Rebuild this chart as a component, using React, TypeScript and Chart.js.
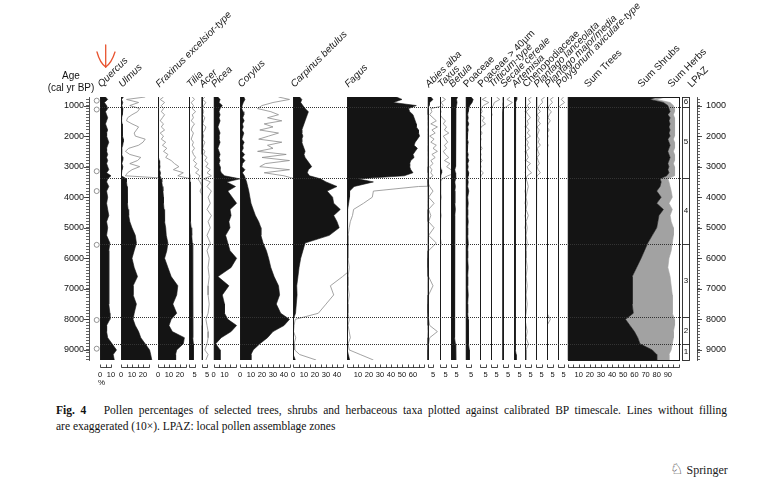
import React, { useEffect, useRef } from "react";
import { Chart, registerables } from "chart.js";

Chart.register(...registerables);

// ---------------- data ----------------
const AGES = [720, 800, 900, 1000, 1100, 1200, 1300, 1400, 1500, 1600,
  1700, 1800, 1900, 2000, 2100, 2200, 2300, 2400, 2500, 2600,
  2700, 2800, 2900, 3000, 3100, 3200, 3300, 3400, 3500, 3650,
  3800, 4000, 4200, 4400, 4600, 4800, 5000, 5250, 5500, 5750,
  6000, 6300, 6600, 6900, 7200, 7500, 7800, 8000, 8200, 8400,
  8600, 8800, 9000, 9150, 9330];

const QUERCUS = [5, 7, 4, 6, 7, 5, 6, 7, 6, 5,
  6, 7, 6, 6, 7, 8, 7, 6, 6, 7,
  6, 7, 6, 7, 8, 6, 10, 7, 6, 8,
  6, 7, 6, 7, 8, 6, 7, 6, 9, 8,
  8, 8, 8, 8, 8, 8, 9, 9, 6, 6,
  7, 11, 15, 12, 13];
const ULMUS = [2.2, 0.5, 1.6, 0.8, 1.7, 1.5, 1.0, 0.6, 0.5, 1.0,
  1.6, 1.4, 1.2, 1.3, 2.2, 2.0, 1.6, 0.7, 0.4, 0.8,
  1.8, 1.5, 0.8, 1.7, 1.0, 0.6, 0.4, 5, 5, 5.5,
  5.5, 6, 6, 6.5, 7, 8, 10, 13, 14, 12,
  10, 12, 15, 11, 11, 14, 12, 11, 13, 16,
  18, 22, 26, 27, 28];
const FRAXINUS = [0.5, 0.2, 0.6, 0.3, 0.5, 0.3, 0.6, 0.4, 0.2, 0.5,
  0.3, 0.6, 0.2, 0.5, 0.3, 0.7, 0.4, 0.8, 0.5, 0.9,
  0.7, 1.2, 1.5, 1.9, 1.4, 2.3, 1.8, 3, 3.5, 4,
  4.5, 5, 5, 5.5, 6, 6, 7, 7.5, 9, 8,
  6, 9, 12, 18, 17, 13.5, 17, 12, 10, 13,
  24, 23, 17, 16, 16];
const TILIA = [0.3, 0.5, 0.2, 0.4, 0.3, 0.6, 0.3, 0.4, 0.2, 0.5,
  0.3, 0.2, 0.4, 0.3, 0.2, 0.4, 0.3, 0.5, 0.3, 0.4,
  0.6, 0.4, 0.7, 0.5, 0.9, 0.6, 1.0, 0.8, 1.0, 1.2,
  1.0, 1.3, 1.5, 1.3, 1.6, 1.8, 2.0, 2.5, 3.0, 3.5,
  3.5, 3.2, 3.5, 3.5, 3.5, 3.2, 3.5, 3.5, 3.5, 3.3,
  3.5, 4, 4, 4, 4];
const ACER = [0.3, 0.1, 0.4, 0.2, 0.1, 0.2, 0.1, 0.3, 0.2, 0.1,
  0.4, 0.3, 0.1, 0.2, 0.1, 0.3, 0.2, 0.1, 0.3, 0.2,
  0.5, 0.3, 0.6, 0.4, 0.8, 0.5, 0.9, 0.2, 0.8, 0.5,
  0.9, 0.6, 0.8, 0.5, 0.9, 0.6, 0.8, 0.5, 0.8, 0.5,
  0.7, 0.6, 0.7, 0.6, 0.6, 0.7, 0.6, 0.4, 0.5, 0.6,
  0.6, 0.5, 0.3, 0.6, 0.4];
const PICEA = [4, 6, 5, 8, 6, 5, 6, 5, 6, 5,
  4, 5, 6, 5, 5, 6, 5, 4, 5, 6,
  5, 6, 5, 6, 6, 7, 10, 24, 12, 20,
  13, 17, 21, 15, 16, 14, 15, 11, 13, 15,
  21, 16, 4, 14, 8, 10, 10, 13, 21, 16,
  7, 2, 6, 6, 6];
const CORYLUS = [3.5, 4.5, 3.0, 2.0, 1.6, 2.8, 3.5, 2.5, 3.8, 2.2,
  3.0, 1.8, 3.5, 2.6, 1.7, 3.8, 2.5, 3.0, 1.6, 4.2,
  2.0, 4.5, 2.3, 1.8, 4.5, 2.2, 4.0, 5, 6, 7,
  8, 9, 10, 12, 14, 17, 19, 19, 21, 24,
  26, 28, 31, 35, 36, 33, 37, 45, 40, 30,
  25, 18, 12, 10, 10];
const CARPINUS = [6, 8, 7, 9, 11, 14, 13, 12, 11, 10,
  9, 8, 8, 9, 8, 8, 9, 10, 11, 10,
  11, 13, 15, 17, 14, 13, 15, 25, 30, 40,
  31, 36, 37, 43, 37, 40, 42, 33, 11, 9,
  7, 5.5, 4.5, 3.4, 3.7, 3.0, 2.3, 0.2, 0.1, 0.05,
  0.25, 0.1, 0.15, 0.6, 2.1];
const FAGUS = [45, 50, 42, 63, 56, 57, 60, 61, 62, 63,
  63, 65, 65, 66, 64, 62, 61, 64, 62, 60,
  61, 58, 57, 57, 58, 60, 52, 10, 24, 6.5,
  2.4, 2.3, 1.5, 0.6, 0.5, 0.3, 0.2, 0.1, 0.1, 0.1,
  0.1, 0.2, 0.1, 0.1, 0.2, 0.1, 0.1, 0.2, 0.1, 0.2,
  0.3, 0.1, 0.2, 1.2, 2.4];
const ABIES = [3, 5, 2, 1.5, 0.3, 0.4, 0.2, 0.5, 0.8, 0.3,
  0.9, 0.4, 0.7, 0.2, 0.6, 0.3, 0.8, 0.5, 0.9, 0.4,
  0.7, 0.3, 0.5, 0.2, 0.4, 0.3, 0.5, 0.1, 0, 0.2,
  0.5, 0.1, 0.6, 0.1, 0.3, 0.1, 0.6, 0.1, 0.8, 0.1,
  0, 0, 0.1, 0.5, 0.1, 0, 0, 0.1, 0.2, 0.9,
  0.2, 0.1, 0, 0, 0];
const TAXUS = [0.2, 0.5, 0.1, 0.3, 0, 0.1, 0, 0.2, 0.5, 0.3,
  0.6, 0.4, 0.8, 0.3, 0.5, 0.7, 0.4, 0.6, 0.3, 0.5,
  0.8, 0.4, 0.9, 0.6, 1.0, 1.5, 0.7, 0.2, 0, 0,
  0, 0.1, 0, 0, 0.1, 0, 0, 0, 0.1, 0,
  0, 0, 0, 0, 0, 0, 0, 0, 0, 0,
  0, 0, 0, 0, 0];
const BETULA = [6, 5, 5.5, 5, 4.5, 4, 4.5, 4, 4, 4.5,
  4, 4, 4.5, 4, 4, 4.5, 4, 4, 4.5, 4,
  4, 4.5, 4, 4, 3.5, 4, 4.5, 4, 3.5, 4,
  3.5, 3.5, 3.5, 4, 3.5, 3.5, 3.5, 3.5, 3.5, 3,
  3, 3.5, 3, 3, 3, 3, 3, 3, 3.5, 3.5,
  3.5, 4, 4, 4.5, 4.5];
const POACEAE = [5, 7, 6, 4, 3, 2.5, 2, 2.5, 2, 3,
  2, 2.5, 2, 1.5, 2, 2.5, 2, 1.5, 2, 2.5,
  2, 3, 2, 2.5, 2, 3, 2.5, 2, 2.5, 2,
  3, 2, 2.5, 2, 2, 2.5, 2, 2, 2.5, 2,
  2, 2.5, 2, 2, 2.5, 2, 2, 2.5, 2.5, 3,
  2.5, 3, 3.5, 3.5, 3.5];
const POACEAE_40 = [0.6, 0.2, 0.8, 0.3, 0.1, 0.2, 0, 0.4, 0.2, 0.5,
  0.1, 0, 0.2, 0, 0.1, 0, 0, 0.2, 0, 0.1,
  0, 0.2, 0, 0.1, 0, 0.3, 0.1, 0, 0, 0,
  0, 0, 0, 0, 0, 0, 0, 0, 0, 0,
  0, 0, 0, 0, 0, 0, 0, 0, 0, 0,
  0, 0, 0, 0, 0];
const TRITICUM = [0.5, 0.8, 0.3, 0.2, 0, 0, 0.1, 0, 0, 0,
  0, 0, 0, 0, 0, 0, 0, 0, 0, 0,
  0, 0, 0, 0, 0, 0, 0, 0, 0, 0,
  0, 0, 0, 0, 0, 0, 0, 0, 0, 0,
  0, 0, 0, 0, 0, 0, 0, 0, 0, 0,
  0, 0, 0, 0, 0];
const SECALE = [0.7, 0.4, 0.9, 0.5, 0.1, 0, 0, 0, 0, 0,
  0, 0, 0, 0, 0, 0, 0, 0, 0, 0,
  0, 0, 0, 0, 0, 0, 0, 0, 0, 0,
  0, 0, 0, 0, 0, 0, 0, 0, 0, 0,
  0, 0, 0, 0, 0, 0, 0, 0, 0, 0,
  0, 0, 0, 0, 0];
const ARTEMISIA = [2, 2.5, 1.5, 1.5, 1.2, 1.0, 1.2, 1.0, 1.3, 1.1,
  1.0, 1.2, 1.4, 1.0, 1.1, 1.3, 1.0, 1.2, 1.0, 1.1,
  1.3, 1.0, 1.2, 1.4, 1.1, 1.0, 1.3, 1.0, 1.2, 1.1,
  1.0, 1.1, 1.0, 1.2, 1.0, 1.1, 1.0, 1.2, 1.3, 1.1,
  1.2, 1.3, 1.4, 1.2, 1.3, 1.2, 1.4, 1.3, 1.5, 1.4,
  1.3, 1.5, 1.8, 2.0, 2.0];
const CHENOPODIACEAE = [0.6, 0.3, 0.5, 0.2, 0.4, 0.1, 0.3, 0.5, 0.2, 0.3,
  0.1, 0.4, 0.2, 0.5, 0.1, 0.3, 0.2, 0.4, 0.1, 0.2,
  0.3, 0.1, 0.5, 0.2, 0.3, 0.6, 0.2, 0.1, 0.2, 0.3,
  0.2, 0.1, 0.2, 0.1, 0.3, 0.1, 0.2, 0.1, 0.2, 0.1,
  0.1, 0.2, 0.1, 0.2, 0.1, 0.2, 0.1, 0, 0.1, 0.2,
  0.1, 0.3, 0.1, 0.1, 0.1];
const PLANTAGO_LANC = [0.8, 0.5, 0.6, 0.3, 0.2, 0.4, 0.1, 0.3, 0.2, 0.4,
  0.1, 0.3, 0.2, 0.1, 0.3, 0.2, 0.4, 0.1, 0.2, 0.3,
  0.1, 0.2, 0.3, 0.1, 0.2, 0.4, 0.1, 0, 0, 0,
  0, 0, 0, 0, 0, 0, 0, 0, 0, 0,
  0, 0, 0, 0, 0, 0, 0, 0, 0, 0,
  0, 0, 0, 0, 0];
const PLANTAGO_MAJ = [0.6, 0.3, 0.5, 0.2, 0.1, 0.4, 0.2, 0.1, 0.3, 0.1,
  0, 0.2, 0, 0.1, 0, 0, 0.1, 0, 0, 0,
  0, 0, 0, 0, 0, 0, 0, 0, 0, 0,
  0, 0, 0, 0, 0, 0, 0, 0, 0, 0,
  0, 0, 0, 0, 0, 0, 0, 0.3, 0, 0,
  0, 0, 0, 0, 0];
const POLYGONUM = [0.5, 0.3, 0.6, 0.2, 0, 0, 0, 0, 0, 0,
  0, 0, 0, 0, 0, 0, 0, 0, 0, 0,
  0, 0, 0, 0, 0, 0, 0, 0, 0, 0,
  0, 0, 0, 0, 0, 0, 0, 0, 0, 0,
  0, 0, 0, 0, 0, 0, 0, 0, 0, 0,
  0, 0, 0, 0, 0];
const SUM_TREES = [80, 74, 86, 90, 91, 92, 90, 92, 91, 92,
  91, 92, 91, 92, 90, 91, 92, 91, 90, 91,
  92, 91, 90, 91, 90, 91, 89, 83, 84, 83,
  80, 84, 80, 86, 82, 81, 80, 76, 72, 69,
  66, 62, 58, 58, 58, 58, 59, 52, 56, 60,
  63, 65, 76, 80, 80];
const SUM_SHRUBS = [8, 6, 6, 5, 5, 4, 5, 4, 5, 4,
  5, 4, 5, 4, 5, 5, 4, 5, 5, 5,
  4, 5, 5, 5, 6, 5, 7, 7, 7, 9,
  13, 10, 11, 8, 10, 12, 15, 19, 22, 24,
  25, 28, 34, 35, 36, 36, 35, 44, 40, 35,
  32, 29, 17, 11, 11];

const DATED_AGES = [840, 1130, 3150, 3800, 5560, 8020, 8960];
const ZONE_BOUNDS = [1040, 3360, 5530, 7930, 8815];
const ZONE_NAMES = ["6", "5", "4", "3", "2", "1"];
const AGE_MIN = 720;
const AGE_MAX = 9330;
const AGE_TICK_FIRST = 800;
const AGE_TICK_LAST = 9300;
const AGE_TICK_STEP = 100;
const AGE_LABEL_STEP = 1000;

// ---------------- layout (not data) ----------------
const PX_PER_PCT = 1.1;
const TOP_H = 97;
const BOTTOM_H = 30;
const AXIS_STEP = 5;
const LPAZ_BOX = [0.14, 0.53];
const FONT = '"Liberation Sans", Arial, sans-serif';

type Panel = {
  id: string;
  name?: string;
  values?: number[];
  width: number;
  ppp?: number;
  min?: number;
  max?: number;
  italic?: boolean;
  exag?: boolean;
  axisTo?: number;
  labels?: number[];
  topTicks?: number[];
  topLabels?: string[];
};

const PANELS: Panel[] = [
  { id: "dates", width: 11, min: 0, max: 1 },
  { id: "quercus", name: "Quercus", values: QUERCUS, width: 21, italic: true, axisTo: 10, labels: [0, 10] },
  { id: "ulmus", name: "Ulmus", values: ULMUS, width: 37, italic: true, exag: true, axisTo: 25, labels: [0, 10, 20] },
  { id: "fraxinus", name: "Fraxinus excelsior-type", values: FRAXINUS, width: 31, italic: true, exag: true, axisTo: 25, labels: [0, 10, 20] },
  { id: "tilia", name: "Tilia", values: TILIA, width: 12.5, italic: true, exag: true, axisTo: 5, labels: [5] },
  { id: "acer", name: "Acer", values: ACER, width: 12, italic: true, exag: true, axisTo: 5, labels: [5] },
  { id: "picea", name: "Picea", values: PICEA, width: 26.5, italic: true, axisTo: 20, labels: [0, 10] },
  { id: "corylus", name: "Corylus", values: CORYLUS, width: 53, italic: true, exag: true, axisTo: 45, labels: [0, 10, 20, 30, 40] },
  { id: "carpinus", name: "Carpinus betulus", values: CARPINUS, width: 54, italic: true, exag: true, axisTo: 45, labels: [0, 10, 20, 30, 40] },
  { id: "fagus", name: "Fagus", values: FAGUS, width: 80.5, italic: true, exag: true, axisTo: 70, labels: [10, 20, 30, 40, 50, 60] },
  { id: "abies", name: "Abies alba", values: ABIES, width: 12.5, italic: true, exag: true, axisTo: 5, labels: [5] },
  { id: "taxus", name: "Taxus", values: TAXUS, width: 11, italic: true, exag: true, axisTo: 5, labels: [5] },
  { id: "betula", name: "Betula", values: BETULA, width: 14.5, italic: true, axisTo: 5, labels: [5] },
  { id: "poaceae", name: "Poaceae", values: POACEAE, width: 14.5, axisTo: 5, labels: [5] },
  { id: "poa40", name: "Poaceae > 40µm", values: POACEAE_40, width: 11, exag: true, axisTo: 5, labels: [5] },
  { id: "triticum", name: "Triticum-type", values: TRITICUM, width: 11.5, italic: true, exag: true, axisTo: 5, labels: [5] },
  { id: "secale", name: "Secale cereale", values: SECALE, width: 11.5, italic: true, exag: true, axisTo: 5, labels: [5] },
  { id: "artemisia", name: "Artemisia", values: ARTEMISIA, width: 11, italic: true, exag: true, axisTo: 5, labels: [5] },
  { id: "cheno", name: "Chenopodiaceae", values: CHENOPODIACEAE, width: 11, exag: true, axisTo: 5, labels: [5] },
  { id: "pllanc", name: "Plantago lanceolata", values: PLANTAGO_LANC, width: 11, italic: true, exag: true, axisTo: 5, labels: [5] },
  { id: "plmaj", name: "Plantago major/media", values: PLANTAGO_MAJ, width: 11, italic: true, exag: true, axisTo: 5, labels: [5] },
  { id: "polyg", name: "Polygonum aviculare-type", values: POLYGONUM, width: 9.5, italic: true, exag: true, axisTo: 5, labels: [5] },
  { id: "sum", width: 112.5, ppp: 1.115, axisTo: 100, labels: [10, 20, 30, 40, 50, 60, 70, 80, 90],
    topTicks: [17, 65, 92], topLabels: ["Sum Trees", "Sum Shrubs", "Sum Herbs"] },
  { id: "lpaz", width: 17, min: 0, max: 1, topTicks: [0.59], topLabels: ["LPAZ"] },
];

function scaleMax(p: Panel) {
  if (p.max !== undefined) return p.max;
  return p.width / (p.ppp || PX_PER_PCT);
}

function ageTicks() {
  const t: { value: number }[] = [];
  for (let v = AGE_TICK_FIRST; v <= AGE_TICK_LAST; v += AGE_TICK_STEP) t.push({ value: v });
  return t;
}

function buildScales() {
  const scales: any = {};
  const yBase = (position: string, padding: number) => ({
    type: "linear",
    axis: "y",
    position,
    min: AGE_MIN,
    max: AGE_MAX,
    reverse: true,
    afterBuildTicks: (s: any) => { s.ticks = ageTicks(); },
    afterFit: (s: any) => { s.width = 40; },
    grid: { display: true, drawOnChartArea: false, drawTicks: true, tickLength: 3, color: "#222", lineWidth: 0.7 },
    border: { display: true, color: "#222", width: 0.8 },
    ticks: {
      autoSkip: false,
      padding,
      color: "#111",
      font: { family: FONT, size: 9 },
      callback: (v: number) => (v % AGE_LABEL_STEP === 0 ? String(v) : ""),
    },
  });
  scales.y = yBase("left", 2);
  scales.yR = yBase("right", 6);

  PANELS.forEach((p) => {
    scales["b_" + p.id] = {
      type: "linear",
      axis: "x",
      position: "bottom",
      stack: "bottom",
      stackWeight: p.width,
      stacked: p.id === "sum",
      min: p.min !== undefined ? p.min : 0,
      max: scaleMax(p),
      grid: { display: false, drawTicks: true, tickLength: 9 },
      border: { display: false },
      ticks: {
        display: !!p.labels,
        autoSkip: false,
        minRotation: 0,
        maxRotation: 0,
        padding: 1,
        color: "#111",
        font: { family: FONT, size: 7.5 },
        callback: (v: number) => String(v),
      },
      afterBuildTicks: (s: any) => { s.ticks = (p.labels || []).map((v) => ({ value: v })); },
      afterFit: (s: any) => { s.height = BOTTOM_H; s.paddingLeft = 0; s.paddingRight = 0; },
    };
  });

  [...PANELS].reverse().forEach((p) => {
    const tTicks = p.topTicks || (p.name ? [0] : []);
    const tLabels = p.topLabels || (p.name ? [p.name] : []);
    scales["t_" + p.id] = {
      type: "linear",
      axis: "x",
      position: "top",
      stack: "top",
      stackWeight: p.width,
      min: p.min !== undefined ? p.min : 0,
      max: scaleMax(p),
      grid: { display: false, drawTicks: false },
      border: { display: false },
      ticks: {
        display: tTicks.length > 0,
        autoSkip: false,
        minRotation: 45,
        maxRotation: 45,
        padding: 7,
        labelOffset: 8,
        color: "#1a1a1a",
        font: { family: FONT, size: 10, style: p.italic ? "italic" : "normal" },
        callback: (_v: number, i: number) => tLabels[i] || "",
      },
      afterBuildTicks: (s: any) => { s.ticks = tTicks.map((v) => ({ value: v })); },
      afterFit: (s: any) => { s.height = TOP_H; s.paddingLeft = 0; s.paddingRight = 0; },
    };
  });
  return scales;
}

function buildDatasets() {
  const fills: any[] = [];
  const lines: any[] = [];
  PANELS.forEach((p) => {
    if (!p.values) return;
    const vals = p.values;
    fills.push({
      label: p.name,
      data: AGES.map((a, i) => ({ x: vals[i], y: a })),
      xAxisID: "b_" + p.id,
      yAxisID: "y",
      fill: "origin",
      backgroundColor: "#141414",
      borderColor: "#141414",
      borderWidth: 0.6,
      pointRadius: 0,
      tension: 0,
    });
    if (p.exag) {
      lines.push({
        label: p.name + " ×10",
        data: AGES.map((a, i) => ({ x: vals[i] * 10, y: a })),
        xAxisID: "b_" + p.id,
        yAxisID: "y",
        fill: false,
        borderColor: "#8c8c8c",
        borderWidth: 0.8,
        pointRadius: 0,
        tension: 0,
      });
    }
  });
  const sums = [
    {
      label: "Sum Trees",
      data: AGES.map((a, i) => ({ x: SUM_TREES[i], y: a })),
      xAxisID: "b_sum", yAxisID: "y",
      fill: "origin", backgroundColor: "#141414", borderColor: "#141414",
      borderWidth: 0.6, pointRadius: 0, tension: 0,
    },
    {
      label: "Sum Shrubs",
      data: AGES.map((a, i) => ({ x: SUM_SHRUBS[i], y: a })),
      xAxisID: "b_sum", yAxisID: "y",
      fill: "-1", backgroundColor: "#a2a2a2", borderColor: "#a2a2a2",
      borderWidth: 0.6, pointRadius: 0, tension: 0,
    },
  ];
  const dates = [
    {
      label: "dates-circle",
      data: DATED_AGES.map((a) => ({ x: 0.7, y: a })),
      xAxisID: "b_dates", yAxisID: "y",
      showLine: false, pointStyle: "circle", pointRadius: 2.5,
      pointBorderColor: "#7a7a7a", pointBackgroundColor: "#fff", pointBorderWidth: 0.8,
    },
    {
      label: "dates-cross",
      data: DATED_AGES.map((a) => ({ x: 0.7, y: a })),
      xAxisID: "b_dates", yAxisID: "y",
      showLine: false, pointStyle: "crossRot", pointRadius: 2.1,
      pointBorderColor: "#7a7a7a", pointBorderWidth: 0.8,
    },
  ];
  return [...dates, ...fills, ...sums, ...lines];
}

const decorPlugin = {
  id: "pollenDecor",
  afterDatasetsDraw(chart: any) {
    const { ctx, chartArea, scales } = chart;
    const top = chartArea.top;
    const bottom = chartArea.bottom;
    ctx.save();
    ctx.strokeStyle = "#1a1a1a";
    ctx.lineWidth = 1;
    // panel baselines
    PANELS.forEach((p) => {
      if (!p.values) return;
      const x = Math.round(scales["b_" + p.id].getPixelForValue(0)) + 0.5;
      ctx.beginPath();
      ctx.moveTo(x, top);
      ctx.lineTo(x, bottom);
      ctx.stroke();
    });
    // sum box
    const sS = scales.b_sum;
    const sx0 = Math.round(sS.getPixelForValue(0)) + 0.5;
    const sx1 = Math.round(sS.getPixelForValue(100)) + 0.5;
    ctx.strokeRect(sx0, Math.round(top) + 0.5, sx1 - sx0, Math.round(bottom - top));
    // bottom axes with upward ticks
    ctx.lineWidth = 0.8;
    PANELS.forEach((p) => {
      if (p.axisTo === undefined) return;
      const s = scales["b_" + p.id];
      const y = Math.round(bottom) + 7.5;
      ctx.beginPath();
      ctx.moveTo(Math.round(s.getPixelForValue(0)) + 0.5, y);
      ctx.lineTo(Math.round(s.getPixelForValue(p.axisTo)) + 0.5, y);
      for (let v = 0; v <= p.axisTo; v += AXIS_STEP) {
        const x = Math.round(s.getPixelForValue(v)) + 0.5;
        ctx.moveTo(x, y);
        ctx.lineTo(x, y - 3);
      }
      ctx.stroke();
    });
    // longer major ticks on the age axes
    ctx.lineWidth = 0.8;
    ctx.strokeStyle = "#222";
    for (let a = AGE_LABEL_STEP; a <= AGE_TICK_LAST; a += AGE_LABEL_STEP) {
      const y = Math.round(scales.y.getPixelForValue(a)) + 0.5;
      ctx.beginPath();
      ctx.moveTo(scales.y.right - 5, y);
      ctx.lineTo(scales.y.right, y);
      ctx.moveTo(scales.yR.left, y);
      ctx.lineTo(scales.yR.left + 5, y);
      ctx.stroke();
    }
    // zone lines
    const xL = scales.b_quercus.getPixelForValue(0);
    const lp = scales.b_lpaz;
    const bx0 = Math.round(lp.getPixelForValue(LPAZ_BOX[0])) + 0.5;
    const bx1 = Math.round(lp.getPixelForValue(LPAZ_BOX[1])) + 0.5;
    ctx.strokeStyle = "#333";
    ctx.lineWidth = 1;
    ctx.setLineDash([1, 1]);
    ZONE_BOUNDS.forEach((a) => {
      const y = Math.round(scales.y.getPixelForValue(a)) + 0.5;
      ctx.beginPath();
      ctx.moveTo(xL, y);
      ctx.lineTo(bx0, y);
      ctx.stroke();
    });
    ctx.setLineDash([]);
    // LPAZ box
    ctx.strokeStyle = "#222";
    ctx.lineWidth = 0.9;
    ctx.strokeRect(bx0, Math.round(top) + 0.5, bx1 - bx0, Math.round(bottom - top));
    ZONE_BOUNDS.forEach((a) => {
      const y = Math.round(scales.y.getPixelForValue(a)) + 0.5;
      ctx.beginPath();
      ctx.moveTo(bx0, y);
      ctx.lineTo(bx1, y);
      ctx.stroke();
    });
    const edges = [AGE_MIN, ...ZONE_BOUNDS, AGE_MAX];
    ctx.fillStyle = "#111";
    ctx.font = "8px " + FONT;
    ctx.textAlign = "center";
    ctx.textBaseline = "middle";
    ZONE_NAMES.forEach((n, i) => {
      const y = scales.y.getPixelForValue((edges[i] + edges[i + 1]) / 2);
      ctx.fillText(n, (bx0 + bx1) / 2, y);
    });
    ctx.restore();
  },
};

const SERIF = "'Liberation Serif', 'Times New Roman', serif";

export default function App() {
  const ref = useRef<HTMLCanvasElement>(null);
  useEffect(() => {
    if (!ref.current) return;
    const chart = new Chart(ref.current, {
      type: "line",
      data: { datasets: buildDatasets() as any },
      options: {
        indexAxis: "y",
        animation: false,
        responsive: false,
        maintainAspectRatio: false,
        devicePixelRatio: 1,
        events: [],
        layout: { padding: { left: 49, right: 33, top: 0, bottom: 10 } },
        plugins: { legend: { display: false }, title: { display: false }, tooltip: { enabled: false } },
        scales: buildScales(),
      } as any,
      plugins: [decorPlugin as any],
    });
    return () => chart.destroy();
  }, []);

  return (
    <div style={{ position: "fixed", left: 0, top: 0, width: 770, height: 499, background: "#fff", overflow: "hidden" }}>
      <canvas ref={ref} width={770} height={400} style={{ position: "absolute", left: 0, top: 0, width: 770, height: 400, display: "block" }} />
      <svg width={770} height={100} style={{ position: "absolute", left: 0, top: 0 }}>
        <g fill="none" stroke="#e8532f" strokeWidth={1.3} strokeLinecap="round">
          <path d="M105.7,45 L105.7,67" />
          <path d="M97,52 Q100,63 105.7,67" />
          <path d="M115,52 Q111.5,63 105.7,67" />
        </g>
      </svg>
      <div style={{ position: "absolute", left: 36, top: 70, width: 70, textAlign: "center", font: "10px " + FONT, lineHeight: "12px", color: "#111" }}>
        Age<br />(cal yr BP)
      </div>
      <div style={{ position: "absolute", left: 98, top: 378, font: "8px " + FONT, color: "#111" }}>%</div>
      <div style={{ position: "absolute", left: 56, top: 402, width: 671, font: "11.5px " + SERIF, lineHeight: "16px", color: "#111", textAlign: "justify", textAlignLast: "justify" as any, whiteSpace: "nowrap" }}>
        <b>Fig. 4</b>&nbsp;&nbsp;&nbsp;Pollen percentages of selected trees, shrubs and herbaceous taxa plotted against calibrated BP timescale. Lines without filling
      </div>
      <div style={{ position: "absolute", left: 56, top: 418, width: 671, font: "11.5px " + SERIF, lineHeight: "16px", color: "#111" }}>
        are exaggerated (10×). LPAZ: local pollen assemblage zones
      </div>
      <div style={{ position: "absolute", left: 670, top: 460, font: "12px " + SERIF, color: "#222", whiteSpace: "nowrap" }}>
        <span style={{ fontFamily: "'DejaVu Sans'", fontSize: 15 }}>♘</span> Springer
      </div>
    </div>
  );
}
